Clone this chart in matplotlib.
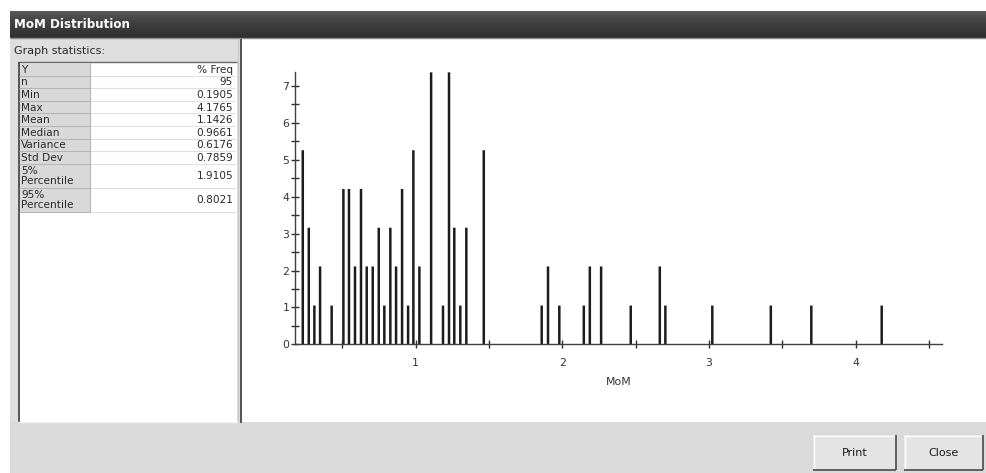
import numpy as np
import matplotlib
matplotlib.use('Agg')
import matplotlib.pyplot as plt
from matplotlib.patches import Rectangle
from matplotlib.colors import LinearSegmentedColormap

# MoM bin positions and % frequency (n = 95)
mom_values = [0.230, 0.271, 0.309, 0.348, 0.427, 0.507, 0.545, 0.586, 0.627,
              0.666, 0.707, 0.748, 0.786, 0.827, 0.866, 0.907, 0.948, 0.984,
              1.025, 1.105, 1.186, 1.227, 1.263, 1.304, 1.345, 1.464, 1.859,
              1.902, 1.979, 2.146, 2.187, 2.264, 2.466, 2.664, 2.702, 3.022,
              3.421, 3.697, 4.177]
freq_pct = [5.26, 3.16, 1.05, 2.11, 1.05, 4.21, 4.21, 2.11, 4.21,
            2.11, 2.11, 3.16, 1.05, 3.16, 2.11, 4.21, 1.05, 5.26,
            2.11, 7.37, 1.05, 7.37, 3.16, 1.05, 3.16, 5.26, 1.05,
            2.11, 1.05, 1.05, 2.11, 2.11, 1.05, 2.11, 1.05, 1.05,
            1.05, 1.05, 1.05]

x_ticks = [1, 2, 3, 4]
x_tick_labels = ['1', '2', '3', '4']
x_minor_ticks = [0.5, 1.5, 2.5, 3.5, 4.5]
y_ticks = [0, 1, 2, 3, 4, 5, 6, 7]
y_tick_labels = ['0', '1', '2', '3', '4', '5', '6', '7']

stat_labels = ['Y', 'n', 'Min', 'Max', 'Mean', 'Median', 'Variance',
               'Std Dev', '5%\nPercentile', '95%\nPercentile']
stat_values = ['% Freq', '95', '0.1905', '4.1765', '1.1426', '0.9661',
               '0.6176', '0.7859', '1.9105', '0.8021']

W, H = 986, 473
plt.rcParams['font.family'] = ['DejaVu Sans']

fig = plt.figure(figsize=(W / 100, H / 100), dpi=100)
fig.patch.set_facecolor('white')

# background "window" drawn in pixel coordinates
bg = fig.add_axes([0, 0, 1, 1])
bg.set_xlim(0, W)
bg.set_ylim(H, 0)
bg.axis('off')


def rect(x0, y0, x1, y1, fc, ec='none', lw=0, z=1):
    bg.add_patch(Rectangle((x0, y0), x1 - x0, y1 - y0, facecolor=fc,
                           edgecolor=ec, linewidth=lw, zorder=z))


def line(x0, y0, x1, y1, c, lw=1, z=3):
    bg.plot([x0, x1], [y0, y1], color=c, linewidth=lw, zorder=z,
            solid_capstyle='butt')


# dark title bar with a soft vertical gradient
title_cmap = LinearSegmentedColormap.from_list(
    'title', ['#5a5a5a', '#444444', '#393939', '#2f2f2f'])
grad = np.linspace(0, 1, 30).reshape(-1, 1)
bg.imshow(grad, extent=[10, W, 38, 11], aspect='auto', cmap=title_cmap,
          zorder=1, interpolation='bilinear')
bg.set_xlim(0, W)
bg.set_ylim(H, 0)
line(10, 38.5, W, 38.5, '#8a8a8a', lw=1)
bg.text(14, 25, 'MoM Distribution', color='white', fontsize=8.6,
        fontweight='bold', va='center', ha='left', zorder=4)

# side panel and bottom strip
rect(10, 39, 241, H, '#dedede')
rect(10, 422, W, H, '#dadada')
rect(242, 39, W, 422, 'white')
line(240.5, 39, 240.5, 423, '#3a3a3a', lw=1.2)
line(238, 39, 238, 423, '#c8c8c8', lw=1)

bg.text(14, 51, 'Graph statistics:', fontsize=8, color='#2a2a2a',
        va='center', ha='left', zorder=4)

# stats table box
rect(18, 62, 237, 422, 'white', z=2)
line(18, 62, 237, 62, '#6a6a6a', lw=1)
line(18.5, 62, 18.5, 422, '#3a3a3a', lw=1.2)
line(18, 422, 238, 422, '#f4f4f4', lw=1)

row_h = [12.6] * 8 + [24, 24]
y = 63
for lab, val, h in zip(stat_labels, stat_values, row_h):
    rect(19, y, 90, y + h, '#d9d9d9', ec='#f2f2f2', lw=0.8, z=2)
    line(90, y + h, 235, y + h, '#e0e0e0', lw=0.8)
    line(19, y + h, 90, y + h, '#b5b5b5', lw=0.8)
    bg.text(21, y + h / 2 + 0.5, lab, fontsize=7.6, color='#2a2a2a',
            va='center', ha='left', linespacing=1.05, zorder=4)
    bg.text(233, y + h / 2 + 0.5, val, fontsize=7.6, color='#2a2a2a',
            va='center', ha='right', zorder=4)
    y += h
line(90, 63, 90, y, '#b5b5b5', lw=0.8)

# buttons
for x0, x1, label in [(813, 896, 'Print'), (904, 983, 'Close')]:
    rect(x0, 435, x1, 470, '#e4e4e4', z=2)
    line(x0, 435.5, x1, 435.5, 'white', lw=1)
    line(x0 + 0.5, 435, x0 + 0.5, 470, 'white', lw=1)
    line(x0, 469.5, x1, 469.5, '#4a4a4a', lw=1.2)
    line(x1 - 0.5, 435, x1 - 0.5, 470, '#4a4a4a', lw=1.2)
    bg.text((x0 + x1) / 2, 453, label, fontsize=8, color='#1a1a1a',
            va='center', ha='center', zorder=4)

# the distribution chart
left, right, bottom, top = 295, 941.7, 344.3, 72
ax = fig.add_axes([left / W, 1 - bottom / H, (right - left) / W,
                   (bottom - top) / H])
ax.set_facecolor('none')
ax.bar(mom_values, freq_pct, width=0.017, color='#1c1c1c', linewidth=0,
       snap=False)
ax.set_xlim(0.177, 4.586)
ax.set_ylim(0, 7.38)

for side in ['top', 'right']:
    ax.spines[side].set_visible(False)
for side in ['left', 'bottom']:
    ax.spines[side].set_color('#404040')
    ax.spines[side].set_linewidth(1)

ax.set_xticks(x_ticks)
ax.set_xticklabels(x_tick_labels)
ax.set_xticks(x_minor_ticks, minor=True)
ax.set_yticks(y_ticks)
ax.set_yticklabels(y_tick_labels)
ax.set_yticks(np.arange(0.5, 7.2, 1.0), minor=True)
ax.tick_params(which='both', direction='inout', length=6, width=1,
               color='#303030', labelsize=7.8, labelcolor='#333333')
ax.tick_params(axis='x', which='both', pad=7)
ax.tick_params(axis='y', which='both', pad=1)
ax.set_xlabel('MoM', fontsize=7.8, color='#333333', labelpad=6)

fig.savefig('out.png', dpi=100)
